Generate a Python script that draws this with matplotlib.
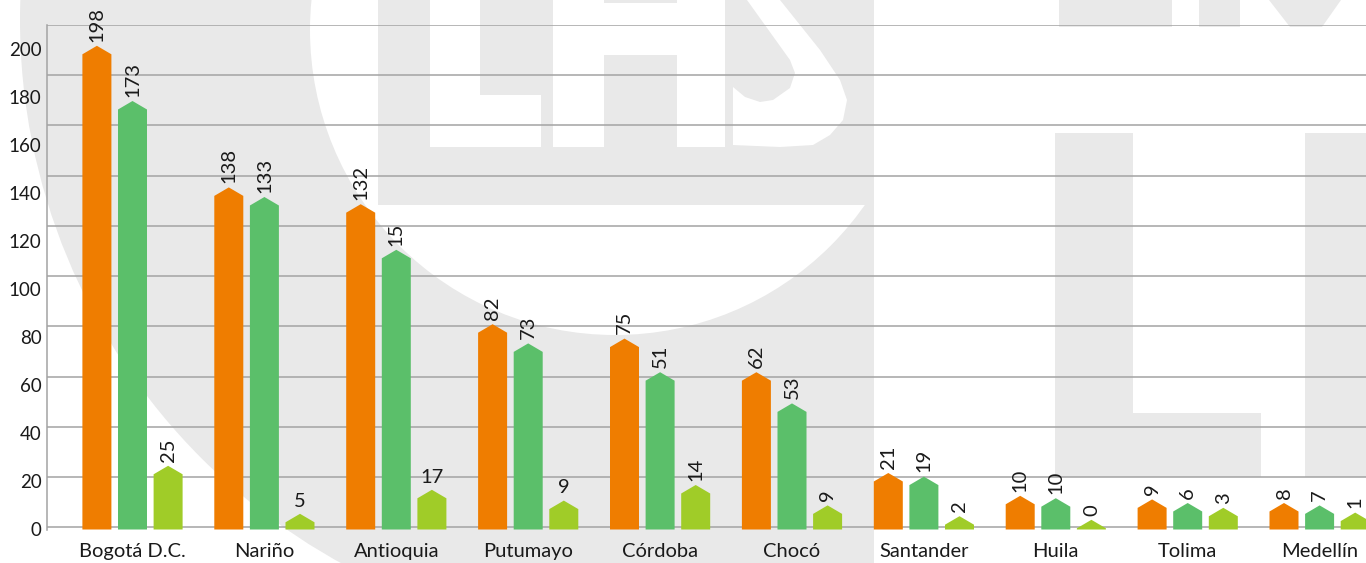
import matplotlib
matplotlib.use("Agg")
import matplotlib.pyplot as plt
import numpy as np
from matplotlib.patches import Circle, Rectangle, Polygon
from matplotlib import transforms

plt.rcParams['font.family'] = ['Lato', 'DejaVu Sans']

# Data
categories = ["Bogotá D.C.", "Nariño", "Antioquia", "Putumayo", "Córdoba",
              "Chocó", "Santander", "Huila", "Tolima", "Medellín"]

# bar heights as drawn
orange_vals = [198, 139, 132, 82, 76, 62, 20, 10.5, 9, 7.5]
green_vals = [175, 135, 113, 74, 62, 49, 18.5, 9.5, 7.5, 6.5]
lime_vals = [23, 3, 13, 8.5, 15, 6.5, 2, 0.5, 5.5, 3.5]

# numbers printed above the bars (as in the source)
orange_labels = ["198", "138", "132", "82", "75", "62", "21", "10", "9", "8"]
green_labels = ["173", "133", "15", "73", "51", "53", "19", "10", "6", "7"]
lime_labels = ["25", "5", "17", "9", "14", "9", "2", "0", "3", "1"]

y_ticks = list(range(0, 201, 20))

COLORS = ['#ef7d00', '#5bbf6a', '#a0cc28']
GRID = '#a3a3a3'
WM = '#e9e9e9'

W, H = 1366, 563
fig = plt.figure(figsize=(W / 100, H / 100), dpi=100)

# ---- faint logo watermark (pixel coordinates) ----
bg = fig.add_axes([0, 0, 1, 1])
bg.set_xlim(0, W)
bg.set_ylim(H, 0)
bg.axis('off')
outer = Circle((640, 20), 620, color=WM, lw=0)
bg.add_patch(outer)
outer.set_clip_path(Rectangle((0, 0), 874, H, transform=bg.transData))
bg.add_patch(Circle((615, 30), 305, color='white', lw=0))
bg.add_patch(Rectangle((378, 0), 496, 205, color=WM, lw=0))
for (x0, y0, w, h) in [(430, 0, 50, 147), (480, 95, 61, 52), (553, 0, 51, 147),
                       (604, 3, 73, 52), (677, 0, 48, 147)]:
    bg.add_patch(Rectangle((x0, y0), w, h, color='white', lw=0))
s_shape = [(747, 0), (780, 0), (820, 50), (840, 80), (847, 100), (843, 120),
           (830, 135), (813, 145), (780, 147), (733, 145), (733, 87), (745, 97),
           (760, 102), (773, 100), (790, 88), (795, 73), (790, 60)]
bg.add_patch(Polygon(s_shape, closed=True, color='white', lw=0))
for (x0, y0, w, h) in [(1055, 133, 78, 344), (1133, 413, 128, 64),
                       (1305, 133, 61, 344), (1059, 0, 113, 27), (1199, 0, 41, 27)]:
    bg.add_patch(Rectangle((x0, y0), w, h, color=WM, lw=0))
bg.add_patch(Polygon([(1269, 0), (1341, 0), (1322, 27), (1290, 27)], color=WM, lw=0))

# ---- chart ----
ax_left, ax_right, ax_bottom, ax_top = 47, 1366, 529.5, 25
px_per_unit = 2.4
group_px, first_px = 131.9, 132.5
ax = fig.add_axes([ax_left / W, (H - ax_bottom) / H,
                   (ax_right - ax_left) / W, (ax_bottom - ax_top) / H])
ax.patch.set_alpha(0)
ax.set_ylim(0, (ax_bottom - ax_top) / px_per_unit)
ax.set_xlim((ax_left - first_px) / group_px, (ax_right - first_px) / group_px)

# grid lines (evenly spaced, slightly offset from the tick labels as in source)
grid_step = 50.23 / px_per_unit
grid_offset = 2.2 / px_per_unit
for k in range(11):
    ax.axhline(grid_offset + k * grid_step, color=GRID, lw=1.1, zorder=1)

x = np.arange(len(categories))
pitch = 35.6 / group_px
width = 29 / group_px
roof = 8.5 / px_per_unit

series = [(orange_vals, orange_labels), (green_vals, green_labels), (lime_vals, lime_labels)]
horizontal = {(2, 1), (2, 2), (2, 3)}  # (series, category) labels drawn flat

for si, (vals, labels) in enumerate(series):
    for ci, (v, lab) in enumerate(zip(vals, labels)):
        xc = x[ci] + (si - 1) * pitch
        xs = [xc - width / 2, xc - width / 2, xc, xc + width / 2, xc + width / 2]
        ys = [0, v, v + roof, v, 0]
        ax.fill(xs, ys, color=COLORS[si], lw=0, zorder=3)
        rot = 0 if (si, ci) in horizontal else 90
        ax.annotate(lab, (xc, v + roof), xytext=(0, 3), textcoords='offset points',
                    ha='center', va='bottom', rotation=rot, fontsize=14.5,
                    color='#1a1a1a', zorder=4, annotation_clip=False)

ax.set_yticks(y_ticks)
ax.set_yticklabels([str(t) for t in y_ticks])
offset = transforms.ScaledTranslation(0, 5.5 / 72, fig.dpi_scale_trans)
for lbl in ax.get_yticklabels():
    lbl.set_transform(lbl.get_transform() + offset)
ax.tick_params(axis='y', length=0, pad=4, labelsize=13.5, labelcolor='#1a1a1a')

ax.set_xticks(x)
ax.set_xticklabels(categories)
ax.tick_params(axis='x', length=0, pad=9.5, labelsize=14.5, labelcolor='#1a1a1a')

for side in ['top', 'right', 'bottom']:
    ax.spines[side].set_visible(False)
ax.spines['left'].set_color(GRID)
ax.spines['left'].set_linewidth(1.1)

fig.savefig("out.png", dpi=100)
